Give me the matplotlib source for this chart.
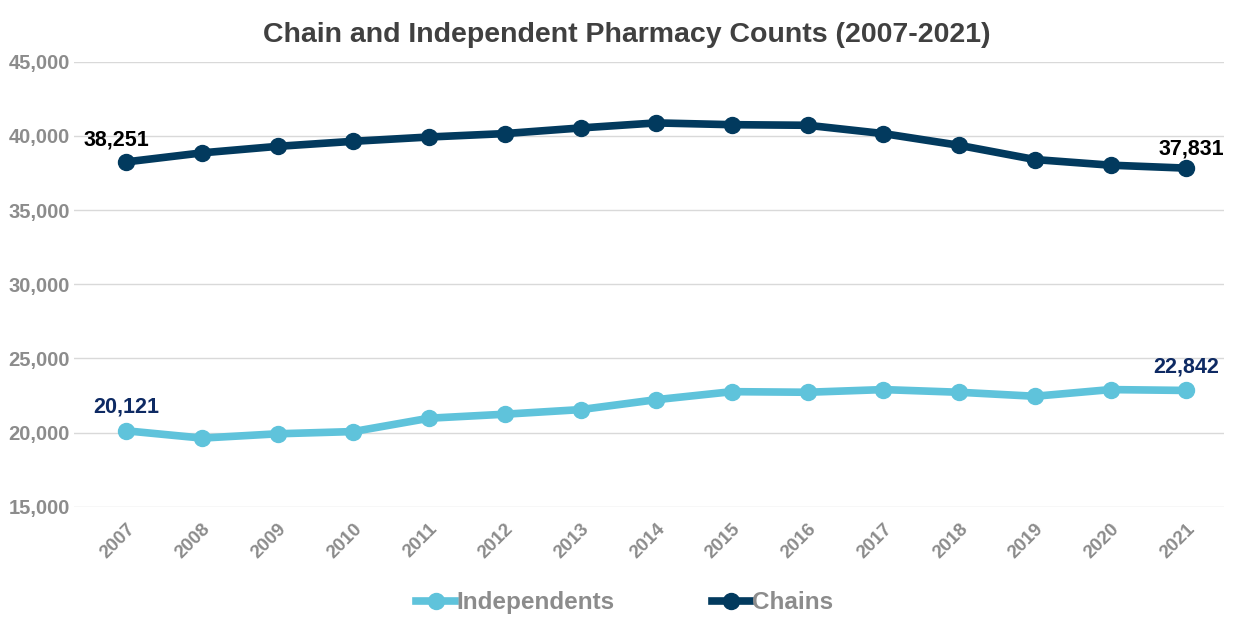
import matplotlib.pyplot as plt
from matplotlib.ticker import FuncFormatter

plt.rcParams['font.family'] = ['Liberation Sans Narrow', 'Liberation Sans', 'DejaVu Sans']
plt.rcParams['font.weight'] = 'bold'

years = ['2007', '2008', '2009', '2010', '2011', '2012', '2013', '2014',
         '2015', '2016', '2017', '2018', '2019', '2020', '2021']
independents = [20121, 19630, 19920, 20070, 20970, 21240, 21550, 22220,
                22760, 22720, 22900, 22720, 22450, 22900, 22842]
chains = [38251, 38860, 39300, 39640, 39930, 40160, 40540, 40880,
          40760, 40720, 40160, 39370, 38410, 38030, 37831]

indep_color = '#5fc3db'
chain_color = '#023a5e'
gray = '#8c8c8c'

fig = plt.figure(figsize=(12.34, 6.18), dpi=100)
ax = fig.add_axes([0.06, 0.18, 0.932, 0.72])

x = list(range(len(years)))
ax.plot(x, independents, color=indep_color, lw=5.5, marker='o', ms=11.5, label='Independents')
ax.plot(x, chains, color=chain_color, lw=5.5, marker='o', ms=11.5, label='Chains')

ax.set_ylim(15000, 45000)
ax.set_xlim(-0.69, 14.5)
ax.set_yticks(range(15000, 45001, 5000))
ax.yaxis.set_major_formatter(FuncFormatter(lambda v, p: f'{int(v):,}'))
ax.set_xticks(x)
ax.set_xticklabels(years, rotation=45, ha='right', rotation_mode='anchor')
ax.tick_params(axis='both', length=0, colors=gray, labelsize=14.5)
ax.tick_params(axis='x', labelsize=13.5, pad=10)
ax.tick_params(axis='y', pad=3)
ax.grid(axis='y', color='#d9d9d9', lw=1)
ax.set_axisbelow(True)
for s in ax.spines.values():
    s.set_visible(False)

# end labels
ax.annotate(f'{chains[0]:,}', (0, chains[0]), xytext=(-7, 16), textcoords='offset points',
            ha='center', va='center', fontsize=15.5, fontweight='bold', color='black')
ax.annotate(f'{chains[-1]:,}', (14, chains[-1]), xytext=(4, 14), textcoords='offset points',
            ha='center', va='center', fontsize=15.5, fontweight='bold', color='black')
ax.annotate(f'{independents[0]:,}', (0, independents[0]), xytext=(0, 17), textcoords='offset points',
            ha='center', va='center', fontsize=15.5, fontweight='bold', color='#0e2a63')
ax.annotate(f'{independents[-1]:,}', (14, independents[-1]), xytext=(0, 17), textcoords='offset points',
            ha='center', va='center', fontsize=15.5, fontweight='bold', color='#0e2a63')

fig.suptitle('Chain and Independent Pharmacy Counts (2007-2021)', x=0.508, y=0.965,
             fontsize=20.5, fontweight='bold', color='#404040')

leg = fig.legend(loc='center', bbox_to_anchor=(0.506, 0.025), ncol=2, frameon=False,
                 fontsize=17.5, handlelength=1.6, handletextpad=0.05, columnspacing=4.0)
for t in leg.get_texts():
    t.set_color(gray)

fig.savefig('out.png', dpi=100)
